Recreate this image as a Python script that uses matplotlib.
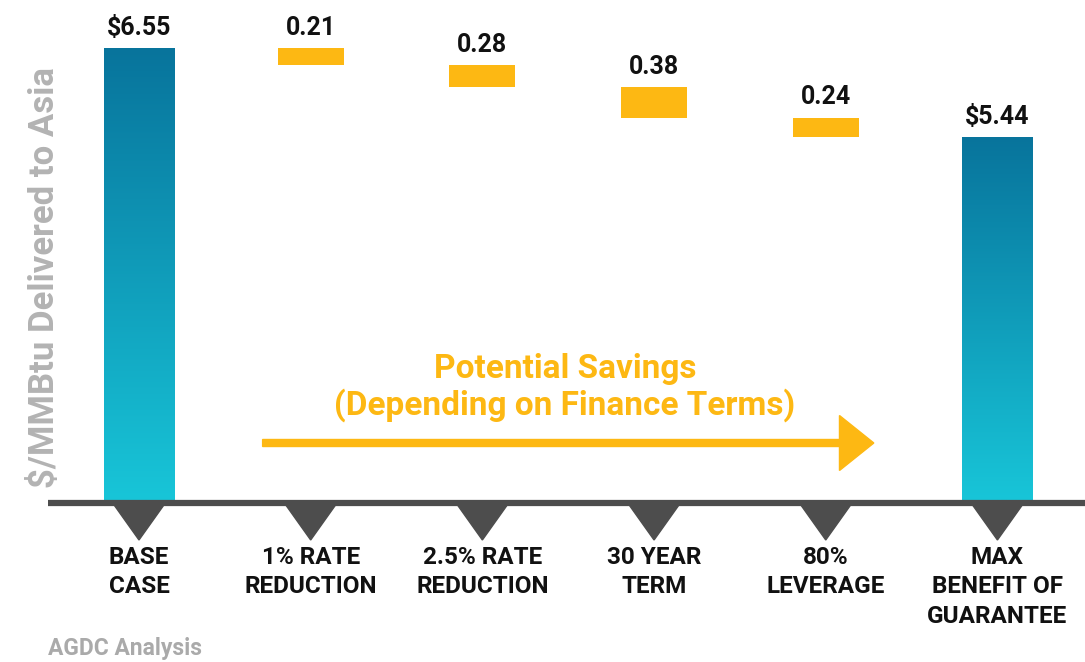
import numpy as np
import matplotlib
matplotlib.use("Agg")
import matplotlib.pyplot as plt
from matplotlib.patches import Polygon, FancyArrow
from matplotlib.colors import LinearSegmentedColormap

# data
categories = ["BASE\nCASE", "1% RATE\nREDUCTION", "2.5% RATE\nREDUCTION",
              "30 YEAR\nTERM", "80%\nLEVERAGE", "MAX\nBENEFIT OF\nGUARANTEE"]
base_case = 6.55
savings = [0.21, 0.28, 0.38, 0.24]
final_case = 5.44
value_labels = ["$6.55", "0.21", "0.28", "0.38", "0.24", "$5.44"]

plt.rcParams['font.family'] = ['Roboto', 'DejaVu Sans']

YELLOW = "#FDB813"
DARK = "#4d4d4d"
grad = LinearSegmentedColormap.from_list("teal", ["#18c5d8", "#08749c"])

fig = plt.figure(figsize=(10.85, 6.62), dpi=100)
ax = fig.add_axes([48 / 1085, 162 / 662, 1037 / 1085, 500 / 662])
ymin = 0.91
ax.axis("off")

x = np.arange(len(categories))

# waterfall: floating yellow steps
tops = base_case - np.concatenate([[0], np.cumsum(savings)[:-1]])
steps = ax.bar(x[1:5], savings, bottom=tops - np.array(savings), width=0.385,
               color=YELLOW, zorder=3)

# the two totals as gradient bars
totals = ax.bar([x[0], x[5]], [base_case - ymin, final_case - ymin], bottom=ymin,
                width=0.41, color="none", zorder=2)
g = np.linspace(0, 1, 256).reshape(-1, 1)
for b in totals:
    x0, y0 = b.get_x(), b.get_y()
    ax.imshow(g, cmap=grad, origin="lower", aspect="auto", zorder=2,
              extent=[x0, x0 + b.get_width(), y0, y0 + b.get_height()])
ax.set_xlim(-0.53, 5.51)
ax.set_ylim(ymin, 7.15)

# value labels
label_tops = [base_case] + list(tops) + [final_case]
for xi, yt, lab in zip(x, label_tops, value_labels):
    ax.annotate(lab, (xi, yt), xytext=(0, 6), textcoords="offset points",
                ha="center", va="bottom", fontsize=18, fontweight="bold",
                color="#111111")

# baseline and pointer triangles
trans = ax.get_xaxis_transform()
ax.plot([-0.53, 5.51], [-0.006, -0.006], transform=trans, color=DARK, lw=4.5,
        clip_on=False, solid_capstyle="butt", zorder=4)
for xi, lab in zip(x, categories):
    ax.add_patch(Polygon([[xi - 0.145, -0.01], [xi + 0.145, -0.01], [xi, -0.08]],
                         closed=True, transform=trans, color=DARK, clip_on=False))
    ax.text(xi, -0.092, lab, transform=trans, ha="center", va="top",
            fontsize=17.5, fontweight="bold", color="#111111", linespacing=1.35)

# y label
fig.text(45 / 1085, 1 - 278 / 662, "$/MMBtu Delivered to Asia", rotation=90,
         ha="center", va="center", fontsize=25, fontweight="bold", color="#b3b3b3")

# savings annotation
ax.text(2.48, 0.225, "Potential Savings\n(Depending on Finance Terms)",
        transform=trans, ha="center", va="center",
        fontsize=24, fontweight="bold", color=YELLOW, linespacing=1.15)
ax.add_patch(FancyArrow(0.72, 0.114, 3.56, 0, width=0.014, head_width=0.11,
                        head_length=0.2, length_includes_head=True,
                        transform=trans, color=YELLOW, clip_on=False))

fig.text(48 / 1085, 1 - 648 / 662, "AGDC Analysis", ha="left", va="center",
         fontsize=16.5, fontweight="bold", color="#aaaaaa")

fig.savefig("out.png", dpi=100)
